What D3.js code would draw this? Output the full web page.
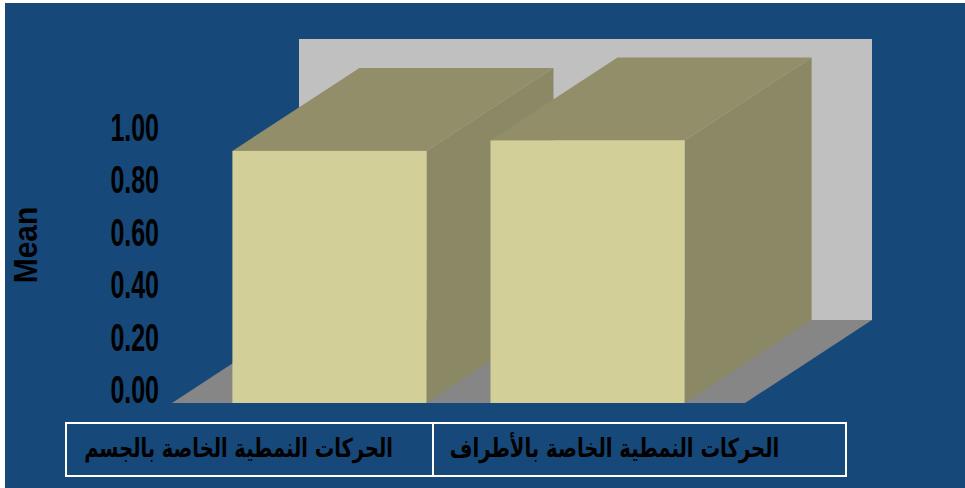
<!DOCTYPE html>
<html lang="ar">
<head>
<meta charset="UTF-8">
<title>Mean - 3D bars</title>
<style>
  html, body { margin: 0; padding: 0; background: #ffffff; }
  svg { display: block; }
</style>
<script src="https://cdn.jsdelivr.net/npm/d3@7/dist/d3.min.js"></script>
</head>
<body>
<script>
// data
const categories = ["الحركات النمطية الخاصة بالجسم", "الحركات النمطية الخاصة بالأطراف"];
const means = [0.96, 1.00];
const tickValues = [0, 0.2, 0.4, 0.6, 0.8, 1.0];
const axisTitle = "Mean";

const W = 965, H = 488;
const depthX = 127, depthY = -83;   // 3d offset of the back plane
const floorY = 403;

const svg = d3.select("body").append("svg")
    .attr("width", W)
    .attr("height", H);

// blue panel
svg.append("rect")
    .attr("x", 5).attr("y", 3)
    .attr("width", W - 5).attr("height", H - 3)
    .attr("fill", "#164879");

const y = d3.scaleLinear().domain([0, 1.07]).range([floorY, 122]);
const x = d3.scaleBand()
    .domain(categories)
    .range([172, 745])
    .paddingInner(0.248)
    .paddingOuter(0.234);

const pts = arr => arr.map(p => p.join(",")).join(" ");

// back wall
svg.append("rect")
    .attr("x", 172 + depthX)
    .attr("y", y(1.07) + depthY)
    .attr("width", 745 - 172)
    .attr("height", y(0) - y(1.07))
    .attr("fill", "#c0c0c0");

// floor
svg.append("polygon")
    .attr("points", pts([
        [172, y(0)], [745, y(0)],
        [745 + depthX, y(0) + depthY], [172 + depthX, y(0) + depthY]
    ]))
    .attr("fill", "#868686");

// bars, drawn left to right so the next front covers the previous side
const bars = svg.append("g").selectAll("g")
    .data(categories.map((c, i) => ({ cat: c, v: means[i] })))
    .join("g");

bars.append("polygon") // right side
    .attr("points", d => {
        const x1 = x(d.cat) + x.bandwidth();
        return pts([[x1, y(d.v)], [x1 + depthX, y(d.v) + depthY],
                    [x1 + depthX, y(0) + depthY], [x1, y(0)]]);
    })
    .attr("fill", "#8b8865");

bars.append("polygon") // top
    .attr("points", d => {
        const x0 = x(d.cat), x1 = x0 + x.bandwidth();
        return pts([[x0, y(d.v)], [x1, y(d.v)],
                    [x1 + depthX, y(d.v) + depthY], [x0 + depthX, y(d.v) + depthY]]);
    })
    .attr("fill", "#928e69");

bars.append("rect") // front
    .attr("x", d => x(d.cat))
    .attr("y", d => y(d.v))
    .attr("width", x.bandwidth())
    .attr("height", d => y(0) - y(d.v))
    .attr("fill", "#d3cf98");

// y axis labels (narrow font look)
const axisG = svg.append("g")
    .attr("transform", "translate(159,-12.5) scale(0.64,1)")
    .call(d3.axisLeft(y).tickValues(tickValues).tickFormat(d3.format(".2f"))
        .tickSize(0).tickPadding(0));
axisG.select(".domain").remove();
axisG.attr("font-family", "'Liberation Sans', Arial, sans-serif")
    .attr("font-size", 39)
    .attr("font-weight", "bold")
    .style("color", "#000");

svg.append("text")
    .attr("transform", "translate(25,245) rotate(-90) scale(0.88,1)")
    .attr("text-anchor", "middle")
    .attr("dy", "0.35em")
    .attr("font-family", "'Liberation Sans', Arial, sans-serif")
    .attr("font-weight", "bold")
    .attr("font-size", 34)
    .attr("fill", "#000")
    .text(axisTitle);

// data table under the chart
const cellEdges = [66, 433, 846];
const tableTop = 423, tableBottom = 476;

svg.append("rect")
    .attr("x", cellEdges[0]).attr("y", tableTop)
    .attr("width", cellEdges[2] - cellEdges[0])
    .attr("height", tableBottom - tableTop)
    .attr("fill", "none")
    .attr("stroke", "#fff")
    .attr("stroke-width", 2);

svg.append("line")
    .attr("x1", cellEdges[1]).attr("x2", cellEdges[1])
    .attr("y1", tableTop).attr("y2", tableBottom)
    .attr("stroke", "#fff")
    .attr("stroke-width", 2);

const labelWidths = [309, 330];
const labelShift = [-11, -25];
categories.forEach((c, i) => {
    const cx = (cellEdges[i] + cellEdges[i + 1]) / 2 + labelShift[i];
    const t = svg.append("text")
        .attr("text-anchor", "middle")
        .attr("direction", "rtl")
        .attr("font-family", "'DejaVu Sans', sans-serif")
        .attr("font-weight", "bold")
        .attr("font-size", 26)
        .attr("fill", "#000")
        .text(c);
    const w = t.node().getComputedTextLength();
    const k = w > 0 ? labelWidths[i] / w : 1;
    t.attr("transform", `translate(${cx},457) scale(${k},1)`);
});
</script>
</body>
</html>
